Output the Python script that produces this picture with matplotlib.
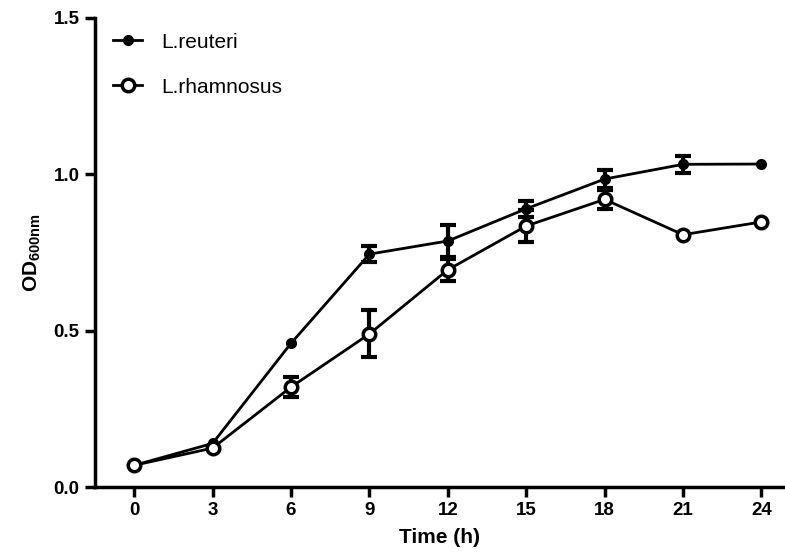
import matplotlib.pyplot as plt

# data
time_h = [0, 3, 6, 9, 12, 15, 18, 21, 24]
reuteri = [0.07, 0.14, 0.46, 0.745, 0.787, 0.89, 0.985, 1.032, 1.033]
reuteri_err = [0.0, 0.0, 0.0, 0.025, 0.05, 0.025, 0.03, 0.027, 0.0]
rhamnosus = [0.07, 0.125, 0.32, 0.49, 0.695, 0.835, 0.92, 0.807, 0.848]
rhamnosus_err = [0.0, 0.0, 0.033, 0.075, 0.036, 0.05, 0.03, 0.0, 0.0]
x_ticks = [0, 3, 6, 9, 12, 15, 18, 21, 24]
y_ticks = [0.0, 0.5, 1.0, 1.5]

font = 'Liberation Sans'
plt.rcParams['font.family'] = [font, 'DejaVu Sans']
plt.rcParams['mathtext.fontset'] = 'custom'
plt.rcParams['mathtext.rm'] = font + ':bold'
plt.rcParams['mathtext.bf'] = font + ':bold'

fig = plt.figure(figsize=(7.85, 5.6), dpi=100)
ax = fig.add_axes([0.121, 0.130, 0.879, 0.838])


def draw(y, err, **style):
    # error bars only where there is an error
    xs = [t for t, e in zip(time_h, err) if e > 0]
    ys = [v for v, e in zip(y, err) if e > 0]
    es = [e for e in err if e > 0]
    ax.errorbar(xs, ys, yerr=es, fmt='none', ecolor='black',
                capsize=6, capthick=3, elinewidth=3, zorder=2)
    return ax.plot(time_h, y, color='black', lw=2, marker='o', zorder=3, **style)[0]


l1 = draw(reuteri, reuteri_err, markersize=7, mfc='black', mec='black', label='L.reuteri')
l2 = draw(rhamnosus, rhamnosus_err, markersize=9, mfc='white', mec='black', mew=2.5,
          label='L.rhamnosus')

ax.set_xlim(-1.5, 24.9)
ax.set_ylim(0, 1.5)
ax.set_xticks(x_ticks)
ax.set_yticks(y_ticks)
ax.set_yticklabels([f'{v:.1f}' for v in y_ticks])

for s in ['top', 'right']:
    ax.spines[s].set_visible(False)
for s in ['left', 'bottom']:
    ax.spines[s].set_linewidth(2.5)
ax.tick_params(direction='out', length=7, width=2.5, pad=4)
for lab in ax.get_xticklabels() + ax.get_yticklabels():
    lab.set_fontweight('bold')
    lab.set_fontsize(13.5)

ax.set_xlabel('Time (h)', fontweight='bold', fontsize=15, labelpad=6)
ax.set_ylabel(r'OD$_{\mathbf{600nm}}$', fontweight='bold', fontsize=15, labelpad=8)

ax.legend(handles=[l1, l2], loc='upper left', bbox_to_anchor=(0.005, 1.0), frameon=False,
          fontsize=15, labelspacing=1.25, handlelength=1.4, handletextpad=0.9,
          borderaxespad=0.3)

fig.savefig('out.png', dpi=100)
